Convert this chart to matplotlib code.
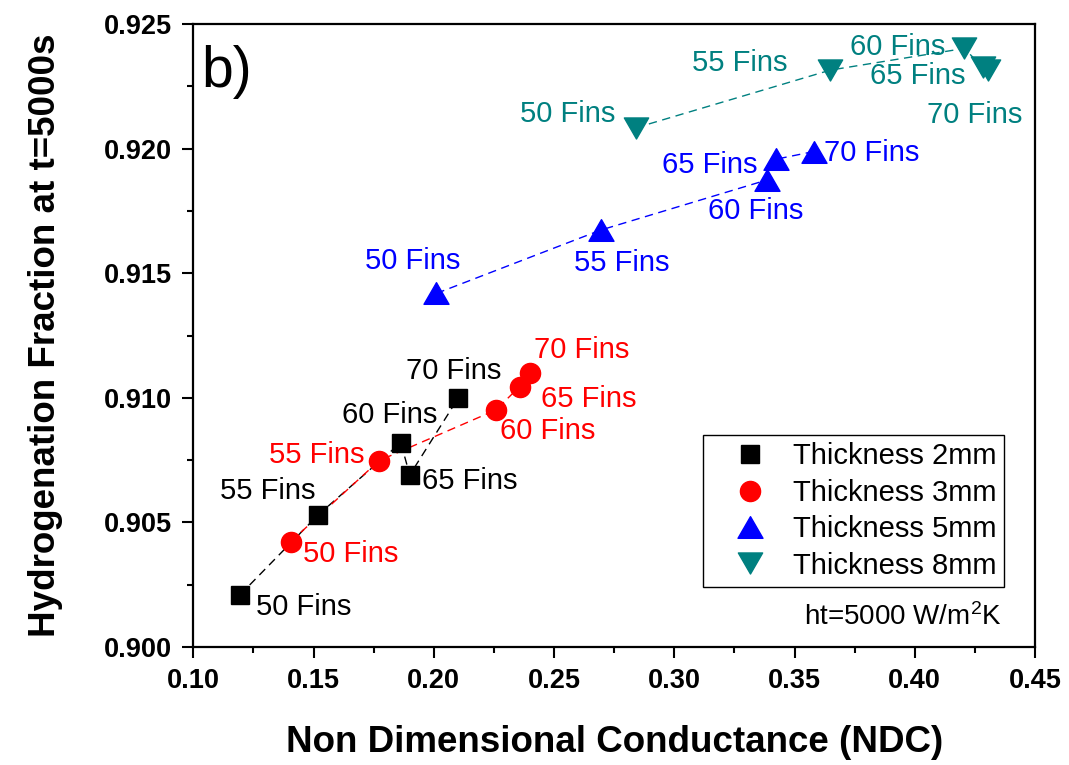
import matplotlib
matplotlib.use("Agg")
import matplotlib.pyplot as plt
from matplotlib.path import Path
import numpy as np

plt.rcParams['font.family'] = ['Liberation Sans', 'DejaVu Sans']
plt.rcParams['mathtext.fontset'] = 'custom'
plt.rcParams['mathtext.rm'] = 'Liberation Sans'
plt.rcParams['mathtext.it'] = 'Liberation Sans:italic'
plt.rcParams['mathtext.bf'] = 'Liberation Sans:bold'

# ---- data -------------------------------------------------------------
fins = ["50 Fins", "55 Fins", "60 Fins", "65 Fins", "70 Fins"]

ndc_2mm = [0.1194, 0.1519, 0.1863, 0.1900, 0.2101]
hf_2mm = [0.90209, 0.90530, 0.90820, 0.90690, 0.90998]

ndc_3mm = [0.1405, 0.1773, 0.2258, 0.2357, 0.2402]
hf_3mm = [0.90423, 0.90748, 0.90951, 0.91045, 0.91101]

ndc_5mm = [0.2011, 0.2694, 0.3385, 0.3421, 0.3579]
hf_5mm = [0.91419, 0.91673, 0.91874, 0.91957, 0.91988]

ndc_8mm = [0.2839, 0.3649, 0.4206, 0.4283, 0.4303]
hf_8mm = [0.92083, 0.92315, 0.92402, 0.92326, 0.92314]

series_names = ["Thickness 2mm", "Thickness 3mm", "Thickness 5mm", "Thickness 8mm"]

# ---- styling ----------------------------------------------------------
tri_up = Path([(-1, -0.866), (1, -0.866), (0, 0.866), (-1, -0.866)],
              [Path.MOVETO, Path.LINETO, Path.LINETO, Path.CLOSEPOLY])
tri_down = Path([(-1, 0.866), (1, 0.866), (0, -0.866), (-1, 0.866)],
                [Path.MOVETO, Path.LINETO, Path.LINETO, Path.CLOSEPOLY])

styles = [
    dict(color="black", marker="s", ms=13),
    dict(color="#ff0000", marker="o", ms=14.5),
    dict(color="#0000ff", marker=tri_up, ms=18),
    dict(color="#008080", marker=tri_down, ms=17.5),
]

# label offsets (points) of each "N Fins" annotation from its marker
label_offsets = [
    [(46, -9), (-36, 17), (-8, 20), (43, -4), (-3, 20)],
    [(43, -9), (-45, 4), (37, -15), (50, -9), (37, 16)],
    [(-17, 23), (15, -24), (-8, -22), (-47, -4), (42, -1)],
    [(-49, 10), (-65, 5), (-48, 1), (-47, -6), (-9, -32)],
]

xs = [ndc_2mm, ndc_3mm, ndc_5mm, ndc_8mm]
ys = [hf_2mm, hf_3mm, hf_5mm, hf_8mm]

fig = plt.figure(figsize=(10.69, 7.65), dpi=100)
ax = fig.add_axes([193.3 / 1069, 1 - 647 / 765, (1035 - 193.3) / 1069, (647 - 24) / 765])

handles = []
for x, y, st, name, offs in zip(xs, ys, styles, series_names, label_offsets):
    ax.plot(x, y, linestyle=(0, (6, 4)), lw=1.0, color=st["color"], zorder=2)
    h, = ax.plot(x, y, linestyle="none", marker=st["marker"], ms=st["ms"],
                 color=st["color"], mec=st["color"], zorder=3, label=name)
    handles.append(h)
    for xi, yi, lab, off in zip(x, y, fins, offs):
        ax.annotate(lab, (xi, yi), xytext=off, textcoords="offset points",
                    ha="center", va="center", fontsize=21, color=st["color"],
                    zorder=4)

ax.set_xlim(0.10, 0.45)
ax.set_ylim(0.900, 0.925)
ax.set_xticks(np.arange(0.10, 0.4501, 0.05))
ax.set_xticks(np.arange(0.125, 0.45, 0.05), minor=True)
ax.set_yticks(np.arange(0.900, 0.92501, 0.005))
ax.set_yticks(np.arange(0.9025, 0.925, 0.005), minor=True)
ax.set_xticklabels([f"{v:.2f}" for v in np.arange(0.10, 0.4501, 0.05)])
ax.set_yticklabels([f"{v:.3f}" for v in np.arange(0.900, 0.92501, 0.005)])

for s in ax.spines.values():
    s.set_linewidth(1.6)
ax.tick_params(which="major", direction="out", length=8, width=1.5,
               labelsize=19.5, pad=7)
ax.tick_params(which="minor", direction="out", length=4.5, width=1.5)
for lbl in ax.get_xticklabels() + ax.get_yticklabels():
    lbl.set_fontweight("bold")

ax.set_xlabel("Non Dimensional Conductance (NDC)", fontsize=26.5, fontweight="bold")
ax.set_ylabel("Hydrogenation Fraction at t=5000s", fontsize=26.5, fontweight="bold")
ax.xaxis.set_label_coords(0.5, -0.125)
ax.yaxis.set_label_coords(-0.155, 0.5)

ax.text(0.01, 0.899, "b)", transform=ax.transAxes, fontsize=41,
        ha="left", va="baseline")

leg = ax.legend(handles=handles, loc="upper left",
                bbox_to_anchor=(703 / 1069, 1 - 435 / 765),
                bbox_transform=fig.transFigure, borderaxespad=0,
                fontsize=21, frameon=True, fancybox=False, edgecolor="black",
                framealpha=1, numpoints=1, handlelength=2.7,
                handletextpad=0.15, borderpad=0.25, labelspacing=0.29)
leg.get_frame().set_linewidth(1.0)

ax.text(1002 / 1069, 1 - 617 / 765, r"ht=5000 W/m$^{2}$K", transform=fig.transFigure,
        fontsize=20, ha="right", va="center")

fig.savefig("out.png", dpi=100)
